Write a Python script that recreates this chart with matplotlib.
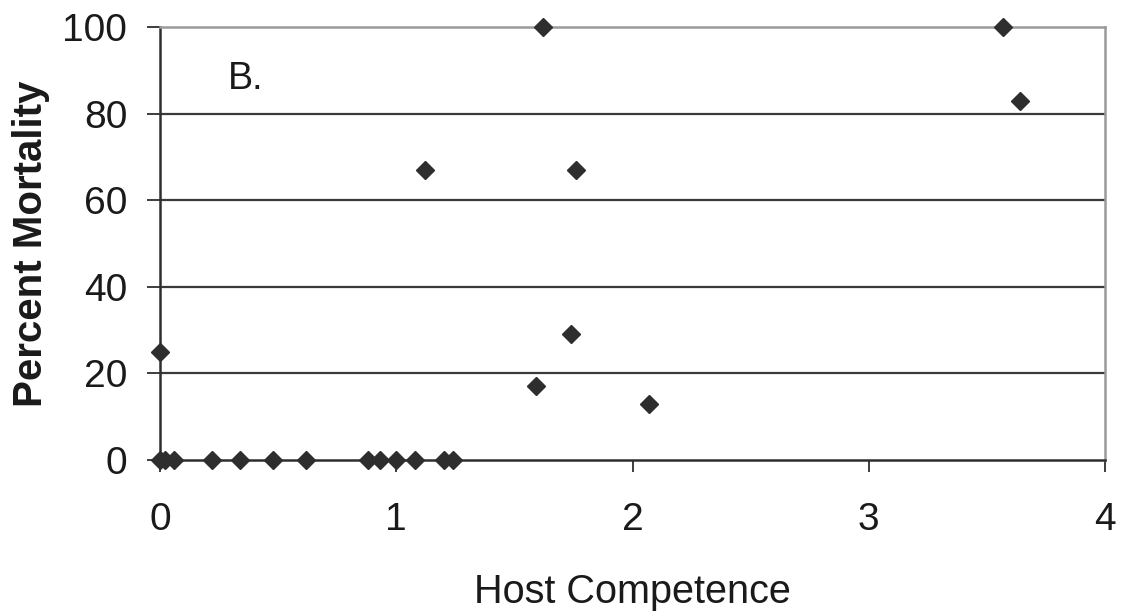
import matplotlib.pyplot as plt

# ---- data ----
host_competence = [0.0, 0.0, 0.02, 0.06, 0.22, 0.34, 0.48, 0.62, 0.88, 0.93, 1.0,
                   1.08, 1.2, 1.24, 1.12, 1.59, 1.62, 1.74, 1.76, 2.07, 3.57, 3.64]
percent_mortality = [25, 0, 0, 0, 0, 0, 0, 0, 0, 0, 0,
                     0, 0, 0, 67, 17, 100, 29, 67, 13, 100, 83]

x_ticks = [0, 1, 2, 3, 4]
y_ticks = [0, 20, 40, 60, 80, 100]

plt.rcParams["font.family"] = ["Liberation Sans", "DejaVu Sans"]

fig = plt.figure(figsize=(11.32, 6.15), dpi=100)
ax = fig.add_axes([160 / 1132, 155 / 615, 945 / 1132, 433 / 615])

# horizontal grid lines
for yv in y_ticks[1:-1]:
    ax.axhline(yv, color="#3a3a3a", lw=1.6, zorder=1)

ax.plot(host_competence, percent_mortality, linestyle="none", marker="D",
        markersize=9.5, color="#2e2e2e", zorder=3, clip_on=False)

ax.set_xlim(0, 4)
ax.set_ylim(0, 100)
ax.set_xticks(x_ticks)
ax.set_yticks(y_ticks)

ax.spines["left"].set_color("#2e2e2e")
ax.spines["bottom"].set_color("#2e2e2e")
ax.spines["left"].set_linewidth(1.8)
ax.spines["bottom"].set_linewidth(1.8)
ax.spines["top"].set_color("#9a9a9a")
ax.spines["right"].set_color("#9a9a9a")
ax.spines["top"].set_linewidth(1.8)
ax.spines["right"].set_linewidth(1.8)

ax.tick_params(axis="y", direction="out", length=9.5, width=1.3, color="#2e2e2e",
               labelsize=28, pad=14, labelcolor="#1a1a1a")
ax.tick_params(axis="x", direction="out", length=8.5, width=1.3, color="#2e2e2e",
               labelsize=28, pad=22, labelcolor="#1a1a1a")

ax.set_xlabel("Host Competence", fontsize=28.5, color="#1a1a1a", labelpad=25)
ax.set_ylabel("Percent Mortality", fontsize=29, fontweight="bold", color="#1a1a1a",
              labelpad=9)

ax.text(0.072, 0.88, "B.", transform=ax.transAxes, fontsize=27, color="#1a1a1a",
        ha="left", va="center")

fig.savefig("out.png", dpi=100)
